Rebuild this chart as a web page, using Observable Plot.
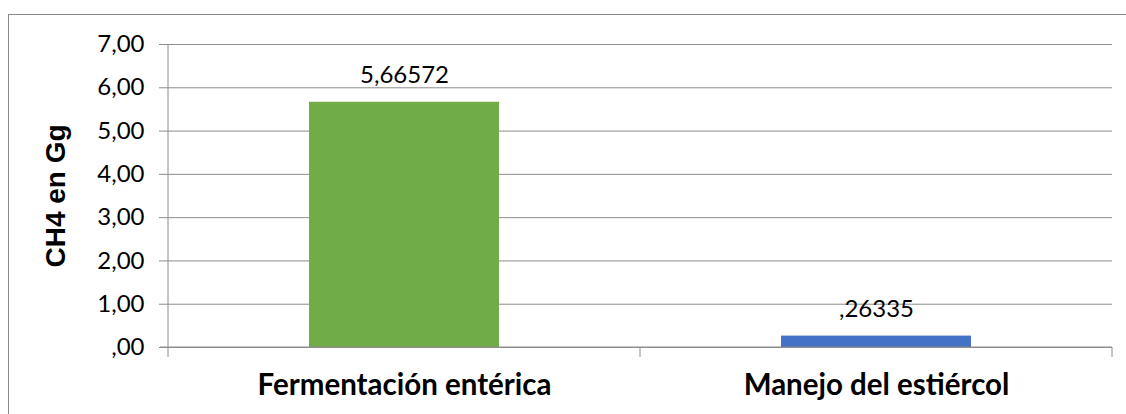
<!DOCTYPE html>
<html><head><meta charset="utf-8">
<script src="https://cdn.jsdelivr.net/npm/d3@7"></script>
<script src="https://cdn.jsdelivr.net/npm/@observablehq/plot@0.6"></script>
<style>
html,body{margin:0;padding:0;background:#fff;overflow:hidden}
#wrap{position:relative;width:1126px;height:414px}
#frame{position:absolute;left:8px;top:14px;width:1130px;height:420px;border:1px solid #8a8a8a;box-sizing:border-box}
#chart{position:absolute;left:0;top:0}
</style></head>
<body><div id="wrap"><div id="frame"></div><div id="chart"></div></div>
<script>
const categories = ["Fermentación entérica", "Manejo del estiércol"];
const values = [5.66572, 0.26335];
const valueLabels = ["5,66572", ",26335"];
const colors = ["#70AD47", "#4472C4"];
const yTicks = [0, 1, 2, 3, 4, 5, 6, 7];
const yTitle = "CH4 en Gg";

const data = categories.map((c, i) => ({cat: c, v: values[i], label: valueLabels[i], color: colors[i]}));
const fmt = d => d3.format(".2f")(d).replace(".", ",").replace(/^0,/, ",");
const grid = "#8c8c8c";
const font = "Lato, 'Open Sans', sans-serif";

const catTicks = (index, scales, values, dim, ctx) => {
  const g = d3.create("svg:g");
  const x = scales.x, bw = x.bandwidth();
  const y0 = scales.y(0);
  const xs = [x(categories[0]), ...categories.map(c => x(c) + bw)];
  xs.forEach(px => g.append("line").attr("x1", px).attr("x2", px).attr("y1", y0).attr("y2", y0 + 10).attr("stroke", grid).attr("stroke-width", 1));
  g.append("line").attr("x1", xs[0]).attr("x2", xs[0]).attr("y1", scales.y(7)).attr("y2", y0).attr("stroke", grid);
  g.append("line").attr("x1", xs[0] - 8).attr("x2", xs[xs.length - 1]).attr("y1", y0).attr("y2", y0).attr("stroke", grid);
  return g.node();
};

const plot = Plot.plot({
  width: 1126, height: 414,
  marginLeft: 167, marginRight: 14, marginTop: 44, marginBottom: 67,
  style: {fontFamily: font, background: "transparent", overflow: "visible"},
  x: {domain: categories, padding: 0, label: null},
  y: {domain: [0, 7], label: null},
  marks: [
    Plot.gridY(yTicks, {stroke: grid, strokeOpacity: 1}),
    Plot.barY(data, {x: "cat", y: "v", fill: "color", insetLeft: 141, insetRight: 141}),
    Plot.text(data, {x: "cat", y: "v", text: "label", dy: -19, lineAnchor: "bottom", fontSize: 24, fill: "#000"}),
    Plot.axisY({ticks: yTicks, tickFormat: fmt, tickSize: 8, tickPadding: 15, stroke: grid, fontSize: 24, fill: "#000", label: null}),
    Plot.axisX({tickSize: 0, tickPadding: 27, fontSize: 29.5, fontWeight: "bold", fill: "#000", label: null}),
    catTicks,
    Plot.text([yTitle], {frameAnchor: "left", textAnchor: "middle", text: d => d, rotate: -90, dx: -111, fontSize: 28, fontWeight: "bold", fontFamily: "'Liberation Sans', Arial, sans-serif", fill: "#000"})
  ]
});
document.getElementById("chart").appendChild(plot);
</script></body></html>
